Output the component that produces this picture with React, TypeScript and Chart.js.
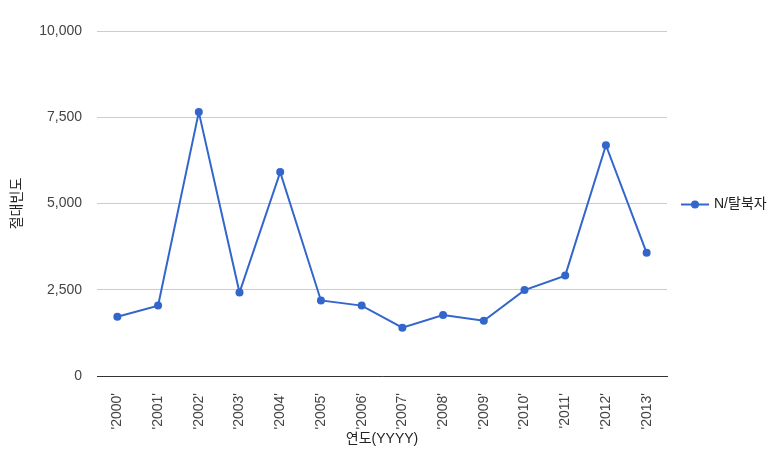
import React, { useEffect, useRef } from "react";
import { Chart, registerables } from "chart.js";

Chart.register(...registerables);

const categories = ["'2000'", "'2001'", "'2002'", "'2003'", "'2004'", "'2005'", "'2006'", "'2007'", "'2008'", "'2009'", "'2010'", "'2011'", "'2012'", "'2013'"];
const seriesName = "N/탈북자";
const seriesValues = [1720, 2040, 7650, 2420, 5910, 2190, 2040, 1400, 1770, 1600, 2490, 2910, 6690, 3570];
const yTicks = [0, 2500, 5000, 7500, 10000];
const yTitle = "절대빈도";
const xTitle = "연도(YYYY)";

const COLOR = "#3366CC";
const FONT = "Arial, 'Liberation Sans', 'Noto Sans CJK KR', sans-serif";

const legendPlugin = {
  id: "rightLegend",
  afterDraw(chart: any) {
    const ctx = chart.ctx;
    const area = chart.chartArea;
    const y = Math.round((area.top + area.bottom) / 2) + 0.5;
    const x0 = area.right + 14;
    ctx.save();
    ctx.strokeStyle = COLOR;
    ctx.lineWidth = 2;
    ctx.beginPath();
    ctx.moveTo(x0, y);
    ctx.lineTo(x0 + 28, y);
    ctx.stroke();
    ctx.fillStyle = COLOR;
    ctx.beginPath();
    ctx.arc(x0 + 14, y, 4, 0, Math.PI * 2);
    ctx.fill();
    ctx.fillStyle = "#222222";
    ctx.font = "14px " + FONT;
    ctx.textAlign = "left";
    ctx.textBaseline = "middle";
    ctx.fillText(seriesName, x0 + 33, y);
    ctx.restore();
  },
};

export default function App() {
  const ref = useRef<HTMLCanvasElement>(null);
  useEffect(() => {
    document.body.style.margin = "0";
    const chart = new Chart(ref.current as HTMLCanvasElement, {
      type: "line",
      data: {
        labels: categories,
        datasets: [
          {
            label: seriesName,
            data: seriesValues,
            borderColor: COLOR,
            backgroundColor: COLOR,
            borderWidth: 2,
            pointRadius: 4,
            pointBorderWidth: 0,
            pointBackgroundColor: COLOR,
            tension: 0,
          },
        ],
      },
      options: {
        responsive: false,
        animation: false,
        layout: { padding: { top: 31, right: 116, left: 0, bottom: 0 } },
        plugins: { legend: { display: false }, tooltip: { enabled: false } },
        scales: {
          x: {
            offset: true,
            grid: { display: false, drawTicks: false },
            border: { display: true, color: "#333333", width: 1 },
            ticks: {
              autoSkip: false,
              minRotation: 90,
              maxRotation: 90,
              padding: 17,
              color: "#444444",
              font: { family: FONT, size: 14 },
            },
            title: {
              display: true,
              text: xTitle,
              color: "#222222",
              font: { family: FONT, size: 14 },
              padding: { top: 0, bottom: 10 },
            },
            afterFit(scale: any) {
              scale.height = 82;
            },
          },
          y: {
            min: 0,
            max: 10000,
            afterBuildTicks(scale: any) {
              scale.ticks = yTicks.map((v) => ({ value: v }));
            },
            grid: { color: "#cccccc", drawTicks: false },
            border: { display: false },
            ticks: {
              padding: 15,
              color: "#444444",
              font: { family: FONT, size: 14 },
              callback: (v: any) => Number(v).toLocaleString("en-US"),
            },
            title: {
              display: true,
              text: yTitle,
              color: "#222222",
              font: { family: FONT, size: 14 },
              padding: { top: 9, bottom: 0 },
            },
            afterFit(scale: any) {
              scale.width = 97;
            },
          },
        },
      },
      plugins: [legendPlugin],
    });
    return () => chart.destroy();
  }, []);
  return (
    <div style={{ width: 783, height: 458 }}>
      <canvas ref={ref} width={783} height={458} style={{ display: "block" }} />
    </div>
  );
}
